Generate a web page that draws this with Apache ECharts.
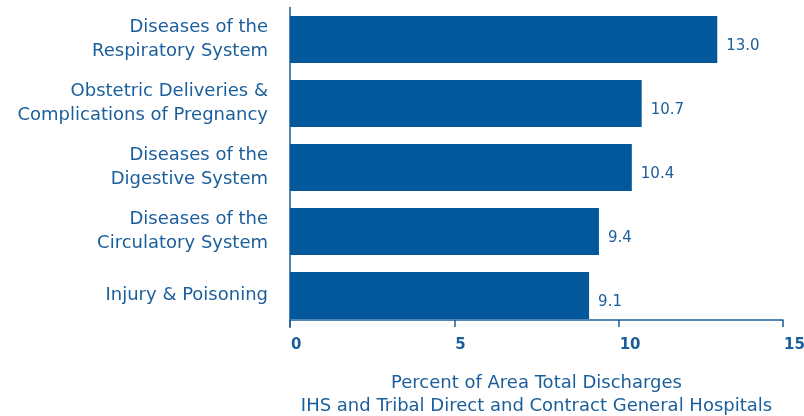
<!DOCTYPE html>
<html><head><meta charset="utf-8">
<script src="https://cdn.jsdelivr.net/npm/echarts@6/dist/echarts.min.js"></script>
<style>html,body{margin:0;padding:0;background:#fff}#c{width:804px;height:416px}</style>
</head><body><div id="c"></div>
<script>
var categories = ["Diseases of the\nRespiratory System","Obstetric Deliveries &\nComplications of Pregnancy","Diseases of the\nDigestive System","Diseases of the\nCirculatory System","Injury & Poisoning"];
var values = [13.0, 10.7, 10.4, 9.4, 9.1];
var xTicks = [0, 5, 10, 15];
var axisTitle = "Percent of Area Total Discharges\nIHS and Tribal Direct and Contract General Hospitals";

var blue = '#02589b';
var textBlue = '#1b5e9c';
var font = 'DejaVu Sans';
var chart = echarts.init(document.getElementById('c'));
chart.setOption({
  animation: false,
  grid: {left: 290, right: 21, top: 7.5, bottom: 88.5, containLabel: false, outerBoundsMode: 'none'},
  xAxis: {
    type: 'value', min: xTicks[0], max: xTicks[xTicks.length-1], interval: 5,
    offset: -7.5,
    axisLine: {show: true, lineStyle: {color: textBlue, width: 1.5}},
    axisTick: {show: true, length: 7, lineStyle: {color: textBlue, width: 1.5}},
    splitLine: {show: false},
    axisLabel: {color: textBlue, fontFamily: font, fontSize: 15, fontWeight: 'bold', margin: 18, align: 'left', padding: [0,0,0,1]},
    name: axisTitle, nameLocation: 'middle', nameGap: 52,
    nameTextStyle: {color: textBlue, fontFamily: font, fontSize: 18, lineHeight: 23}
  },
  yAxis: {
    type: 'category', data: categories, inverse: true,
    axisLine: {show: true, lineStyle: {color: textBlue, width: 1.5}},
    axisTick: {show: false},
    axisLabel: {color: textBlue, fontFamily: font, fontSize: 18, lineHeight: 24, margin: 22, align: 'right', padding: [0,0,14,0]}
  },
  series: [{
    type: 'bar', data: values, barWidth: 47,
    itemStyle: {color: blue},
    label: {show: true, position: 'right', distance: 9, color: textBlue, fontFamily: font, fontSize: 15,
      offset: [0, 7], formatter: function(p){return p.value.toFixed(1);}}
  }]
});
</script></body></html>
